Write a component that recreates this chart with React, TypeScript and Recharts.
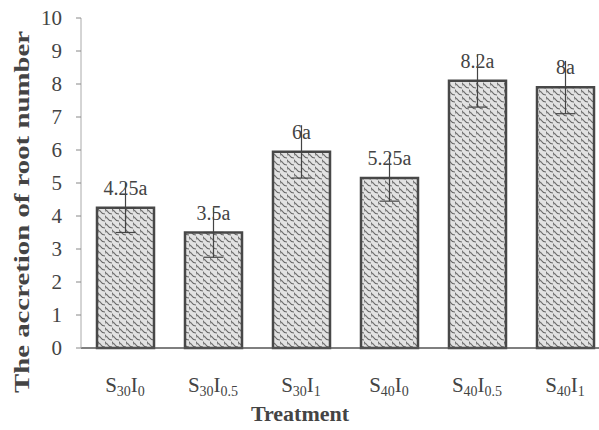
import React from 'react';
import { BarChart, Bar, XAxis, YAxis, ErrorBar, LabelList, Label } from 'recharts';

// values
const treatments = ['S30I0', 'S30I0.5', 'S30I1', 'S40I0', 'S40I0.5', 'S40I1'];
const tickParts = [
  ['30', '0'],
  ['30', '0.5'],
  ['30', '1'],
  ['40', '0'],
  ['40', '0.5'],
  ['40', '1'],
];
const rootAccretion = [4.25, 3.5, 5.95, 5.15, 8.1, 7.9];
const errors = [0.75, 0.75, 0.8, 0.7, 0.8, 0.8];
const barLabels = ['4.25a', '3.5a', '6a', '5.25a', '8.2a', '8a'];
const yTicks = [0, 1, 2, 3, 4, 5, 6, 7, 8, 9, 10];

// upper part drawn without whisker, lower part with one
const data = treatments.map((name, i) => ({
  name,
  value: rootAccretion[i],
  errUp: [0, errors[i]],
  errDown: [errors[i], 0],
  label: barLabels[i],
}));

const SERIF = "'Liberation Serif', 'Times New Roman', 'DejaVu Serif', serif";
const serifStyle = { fontFamily: SERIF };

const TreatmentTick = (props: any) => {
  const { x, y, index } = props;
  const [s, i] = tickParts[index] || ['', ''];
  return (
    <text x={x} y={y + 36} textAnchor="middle" style={serifStyle} fontSize={21} fill="#444">
      <tspan>S</tspan>
      <tspan fontSize={14} dy={4}>{s}</tspan>
      <tspan dy={-4}>I</tspan>
      <tspan fontSize={14} dy={4}>{i}</tspan>
    </text>
  );
};

const ValueTick = (props: any) => {
  const { x, y, payload } = props;
  return (
    <text x={x} y={y + 7} textAnchor="end" style={serifStyle} fontSize={21} fill="#444">
      {payload.value}
    </text>
  );
};

const TopLabel = (props: any) => {
  const { x, y, width, value } = props;
  return (
    <text x={x + width / 2} y={y - 13} textAnchor="middle" style={serifStyle} fontSize={20} fill="#444">
      {value}
    </text>
  );
};

const YTitle = () => (
  <text
    x={0}
    y={0}
    transform="translate(29, 212) rotate(-90)"
    textAnchor="middle"
    style={serifStyle}
    fontWeight="bold"
    fontSize={22}
    fill="#444"
    textLength={362}
    lengthAdjust="spacingAndGlyphs"
  >
    The accretion of root number
  </text>
);

export default function App() {
  return (
    <div style={{ width: 599, height: 430, overflow: 'hidden', background: '#fff' }}>
      <style>{'body{margin:0}'}</style>
      <BarChart
        width={620}
        height={430}
        data={data}
        margin={{ top: 18, right: 11, bottom: 0, left: 0 }}
        barSize={57}
      >
        <defs>
          <pattern id="wavy" width="7" height="7" patternUnits="userSpaceOnUse">
            <rect width="7" height="7" fill="#e2e2e2" />
            <path d="M0,1 Q2,0 3,2 T7,4" stroke="#666" strokeWidth="1.1" fill="none" />
            <path d="M-3,5 Q-1,4 0,6 T4,8" stroke="#666" strokeWidth="1.1" fill="none" />
          </pattern>
        </defs>
        <XAxis
          dataKey="name"
          height={82}
          tickLine={false}
          axisLine={{ stroke: '#555', strokeWidth: 1.5 }}
          tick={<TreatmentTick />}
          interval={0}
        >
          <Label
            content={() => (
              <text x={300} y={421} textAnchor="middle" style={serifStyle} fontWeight="bold" fontSize={22} fill="#444">
                Treatment
              </text>
            )}
          />
        </XAxis>
        <YAxis
          width={81}
          domain={[0, 10]}
          ticks={yTicks}
          interval={0}
          tickSize={5}
          tickMargin={14}
          axisLine={{ stroke: '#aaa' }}
          tickLine={{ stroke: '#888' }}
          tick={<ValueTick />}
        >
          <Label content={() => <YTitle />} />
        </YAxis>
        <Bar dataKey="value" fill="url(#wavy)" stroke="#484848" strokeWidth={2.5} isAnimationActive={false}>
          <ErrorBar dataKey="errUp" width={0} stroke="#444" strokeWidth={1.2} />
          <ErrorBar dataKey="errDown" width={10} stroke="#444" strokeWidth={1.2} />
          <LabelList dataKey="label" content={<TopLabel />} />
        </Bar>
      </BarChart>
    </div>
  );
}
